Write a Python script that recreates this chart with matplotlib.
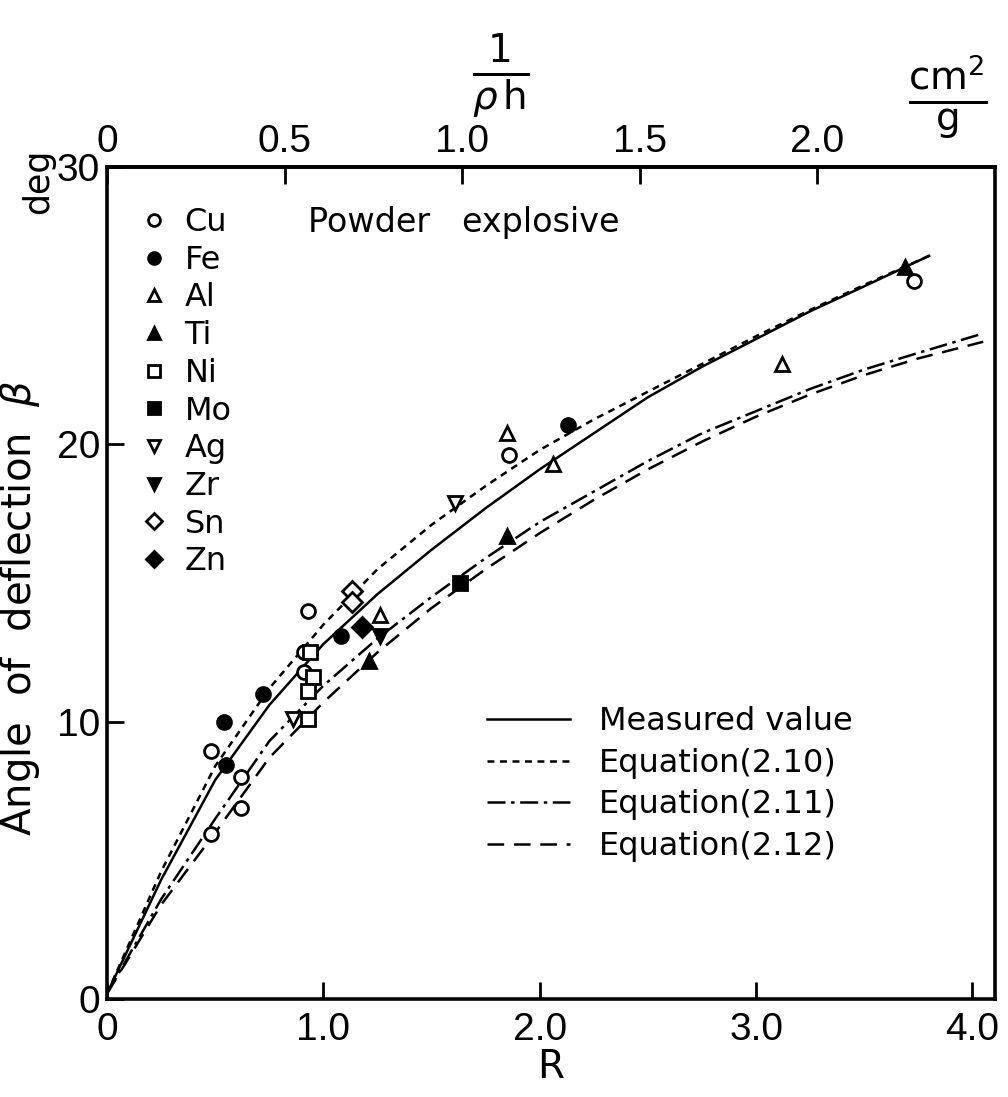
import numpy as np
import matplotlib
matplotlib.use("Agg")
from matplotlib import pyplot as plt
from matplotlib.lines import Line2D

plt.rcParams['font.family'] = ['DejaVu Sans']
plt.rcParams['lines.scale_dashes'] = False
plt.rcParams['mathtext.fontset'] = 'dejavusans'

# measured points (R, beta) per metal
cu_r = [0.48, 0.62, 0.62, 0.48, 0.93, 0.91, 0.91, 1.86, 3.73]
cu_b = [8.95, 8.0, 6.9, 5.95, 14.0, 12.5, 11.8, 19.6, 25.9]
fe_r = [0.54, 0.55, 0.72, 1.08, 2.13]
fe_b = [10.0, 8.45, 11.0, 13.1, 20.7]
al_r = [1.26, 1.85, 2.06, 3.12]
al_b = [13.85, 20.4, 19.3, 22.9]
ti_r = [1.21, 1.85, 3.69]
ti_b = [12.2, 16.7, 26.4]
ni_r = [0.94, 0.95, 0.93, 0.93]
ni_b = [12.5, 11.6, 11.1, 10.1]
mo_r = [1.63]
mo_b = [15.0]
ag_r = [0.86, 1.61]
ag_b = [10.1, 17.9]
zr_r = [1.26]
zr_b = [13.1]
sn_r = [1.13, 1.13]
sn_b = [14.7, 14.3]
zn_r = [1.18]
zn_b = [13.4]

# curves
meas_r = [0, 0.25, 0.5, 0.75, 1.0, 1.25, 1.5, 1.75, 2.0, 2.25, 2.5, 2.75, 3.0, 3.25, 3.5, 3.8]
meas_b = [0.2, 4.3, 7.9, 10.6, 12.8, 14.6, 16.2, 17.7, 19.1, 20.4, 21.7, 22.8, 23.8, 24.8, 25.7, 26.8]
eq10_r = [0, 0.25, 0.5, 0.75, 1.0, 1.25, 1.5, 1.75, 2.0, 2.25, 2.5, 2.75, 3.0, 3.25, 3.5, 3.8]
eq10_b = [0.2, 4.6, 8.4, 11.2, 13.5, 15.5, 17.1, 18.5, 19.8, 20.9, 21.9, 22.9, 23.9, 24.85, 25.75, 26.8]
eq11_r = [0, 0.25, 0.5, 0.75, 1.0, 1.25, 1.5, 1.75, 2.0, 2.25, 2.5, 2.75, 3.0, 3.25, 3.5, 3.75, 4.05]
eq11_b = [0.2, 3.6, 6.5, 9.3, 11.3, 13.0, 14.5, 15.9, 17.2, 18.3, 19.4, 20.4, 21.2, 22.0, 22.7, 23.3, 24.0]
eq12_r = [0, 0.25, 0.5, 0.75, 1.0, 1.25, 1.5, 1.75, 2.0, 2.25, 2.5, 2.75, 3.0, 3.25, 3.5, 3.75, 4.05]
eq12_b = [0.2, 3.4, 6.0, 8.7, 10.7, 12.5, 14.1, 15.5, 16.8, 18.0, 19.1, 20.1, 21.0, 21.8, 22.5, 23.1, 23.7]

bottom_ticks = [0, 1.0, 2.0, 3.0, 4.0]
bottom_labels = ["0", "1.0", "2.0", "3.0", "4.0"]
left_ticks = [0, 10, 20, 30]
left_labels = ["0", "10", "20", "30"]
top_ticks = [0, 0.5, 1.0, 1.5, 2.0]
top_labels = ["0", "0.5", "1.0", "1.5", "2.0"]
r_per_top = 1.642

fig = plt.figure(figsize=(10.08, 10.97), dpi=100)
ax = fig.add_axes([0.1062, 0.0893, 0.881, 0.7584])

tick_font = {'family': ['Liberation Sans'], 'size': 28}

lw = 1.8
ax.plot(meas_r, meas_b, color='black', lw=lw, ls='-')
ax.plot(eq10_r, eq10_b, color='black', lw=lw, ls=(0, (5, 4)))
ax.plot(eq11_r, eq11_b, color='black', lw=lw, ls=(0, (13, 4, 2.5, 4)))
ax.plot(eq12_r, eq12_b, color='black', lw=lw, ls=(0, (12, 7)))

ms = 10
mew = 2
k = dict(ls='none', color='black', ms=ms, mew=mew)
h_cu, = ax.plot(cu_r, cu_b, marker='o', mfc='white', **k)
h_fe, = ax.plot(fe_r, fe_b, marker='o', mfc='black', **k)
h_al, = ax.plot(al_r, al_b, marker='^', mfc='white', **k)
h_ti, = ax.plot(ti_r, ti_b, marker='^', mfc='black', **k)
h_ni, = ax.plot(ni_r, ni_b, marker='s', mfc='white', **k)
h_mo, = ax.plot(mo_r, mo_b, marker='s', mfc='black', **k)
h_ag, = ax.plot(ag_r, ag_b, marker='v', mfc='white', **k)
h_zr, = ax.plot(zr_r, zr_b, marker='v', mfc='black', **k)
h_sn, = ax.plot(sn_r, sn_b, marker='D', mfc='white', **k)
h_zn, = ax.plot(zn_r, zn_b, marker='D', mfc='black', **k)

ax.set_xlim(0, 2.5 * r_per_top)
ax.set_ylim(0, 30)

for s in ax.spines.values():
    s.set_linewidth(2.6)

ax.set_xticks(bottom_ticks)
ax.set_xticklabels(bottom_labels, fontdict=tick_font)
ax.set_yticks(left_ticks)
ax.set_yticklabels(left_labels, fontdict=tick_font)
ax.tick_params(direction='in', length=12, width=2, pad=9)
ax.tick_params(axis='y', pad=5)

top = ax.secondary_xaxis('top', functions=(lambda r: r / r_per_top, lambda t: t * r_per_top))
top.set_xticks(top_ticks)
top.set_xticklabels(top_labels, fontdict=tick_font)
top.tick_params(direction='in', length=12, width=2, pad=5)
top.spines['top'].set_linewidth(2.6)

ax.set_xlabel("R", fontsize=28, labelpad=0)
ax.set_ylabel(r"Angle  of  deflection  $\beta$", fontsize=29)
ax.yaxis.set_label_coords(-0.073, 0.47)
fig.text(0.038, 0.835, "deg", rotation=90, fontsize=25, ha='center', va='center')
fig.text(0.497, 0.93, r"$\frac{1}{\rho\,\mathrm{h}}$", fontsize=40, ha='center', va='center')
fig.text(0.94, 0.912, r"$\frac{\mathrm{cm}^2}{\mathrm{g}}$", fontsize=40, ha='center', va='center')

ax.text(0.93, 28.0, "Powder   explosive", fontsize=24, ha='left', va='center')

leg1 = ax.legend([h_cu, h_fe, h_al, h_ti, h_ni, h_mo, h_ag, h_zr, h_sn, h_zn],
                 ["Cu", "Fe", "Al", "Ti", "Ni", "Mo", "Ag", "Zr", "Sn", "Zn"],
                 loc='upper left', bbox_to_anchor=(0.035, 0.952), frameon=False,
                 fontsize=23, handlelength=1.0, handletextpad=0.45, labelspacing=0.21,
                 borderaxespad=0, borderpad=0, markerscale=0.85)
ax.add_artist(leg1)

line_handles = [Line2D([], [], color='black', lw=lw, ls='-'),
                Line2D([], [], color='black', lw=lw, ls=(0, (5, 4))),
                Line2D([], [], color='black', lw=lw, ls=(0, (13, 4, 2.5, 4))),
                Line2D([], [], color='black', lw=lw, ls=(0, (12, 7)))]
ax.legend(line_handles, ["Measured value", "Equation(2.10)", "Equation(2.11)", "Equation(2.12)"],
          loc='upper left', bbox_to_anchor=(0.428, 0.352), frameon=False, fontsize=23,
          handlelength=2.6, handletextpad=0.9, labelspacing=0.33, borderaxespad=0, borderpad=0)

fig.savefig("out.png", dpi=100, facecolor='white')
